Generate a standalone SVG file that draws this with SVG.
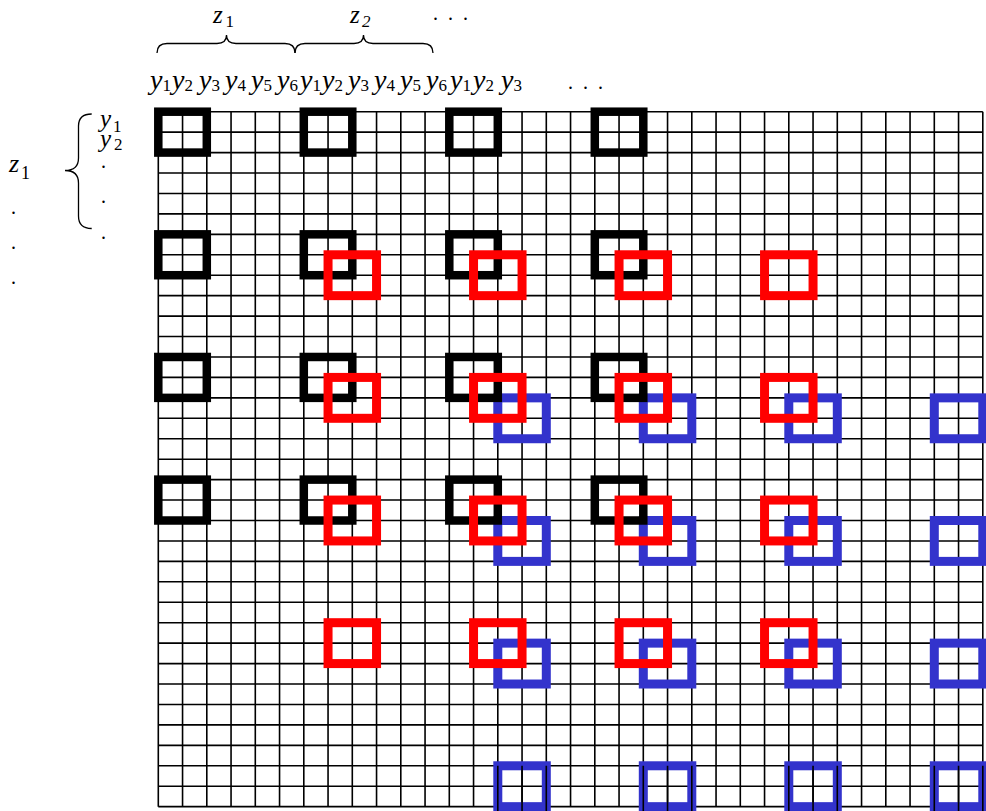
<svg xmlns="http://www.w3.org/2000/svg" width="986" height="811" viewBox="0 0 986 811">
<style>
.t{font-family:"Liberation Serif","Times New Roman",serif;fill:#000}
.it{font-style:italic}
.grid{fill:none;stroke:#000;stroke-width:1.6}
.brace{fill:none;stroke:#000;stroke-width:1.3}
.bk{fill:none;stroke:#000;stroke-width:8.5}
.rd{fill:none;stroke:#FF0000;stroke-width:9}
.bl{fill:none;stroke:#3333CC;stroke-width:9}
</style>
<rect width="986" height="811" fill="#fff"/>
<g id="labels">
<text class="t it" x="213" y="22.5" font-size="25">z</text><text class="t" x="225.5" y="27" font-size="17">1</text>
<text class="t it" x="350" y="22.5" font-size="25">z</text><text class="t it" x="362" y="27" font-size="17">2</text>
<text class="t" x="433 440.5 448 455.5 463" y="20" font-size="20">. . .</text>
<text class="t" font-size="28" y="89"><tspan class="it" x="150">y</tspan><tspan font-size="17" dy="2">1</tspan><tspan class="it" x="172" y="89">y</tspan><tspan font-size="17" dy="2">2</tspan><tspan class="it" x="199" y="89">y</tspan><tspan font-size="17" dy="2">3</tspan><tspan class="it" x="225" y="89">y</tspan><tspan font-size="17" dy="2">4</tspan><tspan class="it" x="251" y="89">y</tspan><tspan font-size="17" dy="2">5</tspan><tspan class="it" x="277" y="89">y</tspan><tspan font-size="17" dy="2">6</tspan><tspan class="it" x="300" y="89">y</tspan><tspan font-size="17" dy="2">1</tspan><tspan class="it" x="322" y="89">y</tspan><tspan font-size="17" dy="2">2</tspan><tspan class="it" x="348" y="89">y</tspan><tspan font-size="17" dy="2">3</tspan><tspan class="it" x="374" y="89">y</tspan><tspan font-size="17" dy="2">4</tspan><tspan class="it" x="400" y="89">y</tspan><tspan font-size="17" dy="2">5</tspan><tspan class="it" x="426" y="89">y</tspan><tspan font-size="17" dy="2">6</tspan><tspan class="it" x="450" y="89">y</tspan><tspan font-size="17" dy="2">1</tspan><tspan class="it" x="473" y="89">y</tspan><tspan font-size="17" dy="2">2</tspan><tspan class="it" x="501" y="89">y</tspan><tspan font-size="17" dy="2">3</tspan></text>
<text class="t" x="568 575.5 583 590.5 598" y="89" font-size="20">. . .</text>
<text class="t it" x="100" y="127" font-size="25">y</text><text class="t" x="113" y="131.5" font-size="17">1</text>
<text class="t it" x="100" y="147" font-size="25">y</text><text class="t" x="114" y="150" font-size="17">2</text>
<text class="t" x="101" y="168" font-size="20">.</text>
<text class="t" x="101" y="203" font-size="20">.</text>
<text class="t" x="101" y="239" font-size="20">.</text>
<text class="t it" x="9" y="172" font-size="26">z</text><text class="t" x="21" y="179" font-size="18">1</text>
<text class="t" x="11" y="214" font-size="20">.</text>
<text class="t" x="11" y="249" font-size="20">.</text>
<text class="t" x="11" y="284" font-size="20">.</text>
</g>
<g id="braces">
<path class="brace" d="M157,53 Q157,43.5 167,43.5 H217 Q226.5,43.5 226.5,35 Q226.5,43.5 236,43.5 H285 Q295,43.5 295,53"/>
<path class="brace" d="M295,53 Q295,43.5 305,43.5 H354 Q363.5,43.5 363.5,35 Q363.5,43.5 373,43.5 H423 Q433,43.5 433,53"/>
<path class="brace" d="M91.7,114 Q78.5,114 78.5,126 V158 Q78.5,170.5 65,170.5 Q78.5,170.5 78.5,183 V216 Q78.5,228.5 91.7,228.5"/>
</g>
<g id="grid">
<path class="grid" d="M158.3,111.7V806.7M182.55,111.7V806.7M206.8,111.7V806.7M231.05,111.7V806.7M255.3,111.7V806.7M279.55,111.7V806.7M303.8,111.7V806.7M328.05,111.7V806.7M352.3,111.7V806.7M376.55,111.7V806.7M400.8,111.7V806.7M425.05,111.7V806.7M449.3,111.7V806.7M473.55,111.7V806.7M497.8,111.7V806.7M522.05,111.7V806.7M546.3,111.7V806.7M570.55,111.7V806.7M594.8,111.7V806.7M619.05,111.7V806.7M643.3,111.7V806.7M667.55,111.7V806.7M691.8,111.7V806.7M716.05,111.7V806.7M740.3,111.7V806.7M764.55,111.7V806.7M788.8,111.7V806.7M813.05,111.7V806.7M837.3,111.7V806.7M861.55,111.7V806.7M885.8,111.7V806.7M910.05,111.7V806.7M934.3,111.7V806.7M958.55,111.7V806.7M982.8,111.7V806.7
M158.3,111.7H982.8M158.3,132.14H982.8M158.3,152.58H982.8M158.3,173.02H982.8M158.3,193.46H982.8M158.3,213.9H982.8M158.3,234.34H982.8M158.3,254.78H982.8M158.3,275.22H982.8M158.3,295.66H982.8M158.3,316.1H982.8M158.3,336.54H982.8M158.3,356.98H982.8M158.3,377.42H982.8M158.3,397.86H982.8M158.3,418.3H982.8M158.3,438.74H982.8M158.3,459.18H982.8M158.3,479.62H982.8M158.3,500.06H982.8M158.3,520.5H982.8M158.3,540.94H982.8M158.3,561.38H982.8M158.3,581.82H982.8M158.3,602.26H982.8M158.3,622.7H982.8M158.3,643.14H982.8M158.3,663.58H982.8M158.3,684.02H982.8M158.3,704.46H982.8M158.3,724.9H982.8M158.3,745.34H982.8M158.3,765.78H982.8M158.3,786.22H982.8M158.3,806.66H982.8"/>
</g>
<g id="blue-boxes">
<rect class="bl" x="497.8" y="397.86" width="48.5" height="40.88"/><rect class="bl" x="643.3" y="397.86" width="48.5" height="40.88"/><rect class="bl" x="788.8" y="397.86" width="48.5" height="40.88"/><rect class="bl" x="934.3" y="397.86" width="48.5" height="40.88"/>
<rect class="bl" x="497.8" y="520.5" width="48.5" height="40.88"/><rect class="bl" x="643.3" y="520.5" width="48.5" height="40.88"/><rect class="bl" x="788.8" y="520.5" width="48.5" height="40.88"/><rect class="bl" x="934.3" y="520.5" width="48.5" height="40.88"/>
<rect class="bl" x="497.8" y="643.14" width="48.5" height="40.88"/><rect class="bl" x="643.3" y="643.14" width="48.5" height="40.88"/><rect class="bl" x="788.8" y="643.14" width="48.5" height="40.88"/><rect class="bl" x="934.3" y="643.14" width="48.5" height="40.88"/>
<rect class="bl" x="497.8" y="765.78" width="48.5" height="40.88"/><rect class="bl" x="643.3" y="765.78" width="48.5" height="40.88"/><rect class="bl" x="788.8" y="765.78" width="48.5" height="40.88"/><rect class="bl" x="934.3" y="765.78" width="48.5" height="40.88"/>
<path class="grid" d="M497.8,765.78V811M522.05,765.78V811M546.3,765.78V811M643.3,765.78V811M667.55,765.78V811M691.8,765.78V811M788.8,765.78V811M813.05,765.78V811M837.3,765.78V811M934.3,765.78V811M958.55,765.78V811M982.8,765.78V811"/>
</g>
<g id="black-boxes">
<rect class="bk" x="158.3" y="111.7" width="48.5" height="40.88"/><rect class="bk" x="303.8" y="111.7" width="48.5" height="40.88"/><rect class="bk" x="449.3" y="111.7" width="48.5" height="40.88"/><rect class="bk" x="594.8" y="111.7" width="48.5" height="40.88"/>
<rect class="bk" x="158.3" y="234.34" width="48.5" height="40.88"/><rect class="bk" x="303.8" y="234.34" width="48.5" height="40.88"/><rect class="bk" x="449.3" y="234.34" width="48.5" height="40.88"/><rect class="bk" x="594.8" y="234.34" width="48.5" height="40.88"/>
<rect class="bk" x="158.3" y="356.98" width="48.5" height="40.88"/><rect class="bk" x="303.8" y="356.98" width="48.5" height="40.88"/><rect class="bk" x="449.3" y="356.98" width="48.5" height="40.88"/><rect class="bk" x="594.8" y="356.98" width="48.5" height="40.88"/>
<rect class="bk" x="158.3" y="479.62" width="48.5" height="40.88"/><rect class="bk" x="303.8" y="479.62" width="48.5" height="40.88"/><rect class="bk" x="449.3" y="479.62" width="48.5" height="40.88"/><rect class="bk" x="594.8" y="479.62" width="48.5" height="40.88"/>
</g>
<g id="red-boxes">
<rect class="rd" x="328.05" y="254.78" width="48.5" height="40.88"/><rect class="rd" x="473.55" y="254.78" width="48.5" height="40.88"/><rect class="rd" x="619.05" y="254.78" width="48.5" height="40.88"/><rect class="rd" x="764.55" y="254.78" width="48.5" height="40.88"/>
<rect class="rd" x="328.05" y="377.42" width="48.5" height="40.88"/><rect class="rd" x="473.55" y="377.42" width="48.5" height="40.88"/><rect class="rd" x="619.05" y="377.42" width="48.5" height="40.88"/><rect class="rd" x="764.55" y="377.42" width="48.5" height="40.88"/>
<rect class="rd" x="328.05" y="500.06" width="48.5" height="40.88"/><rect class="rd" x="473.55" y="500.06" width="48.5" height="40.88"/><rect class="rd" x="619.05" y="500.06" width="48.5" height="40.88"/><rect class="rd" x="764.55" y="500.06" width="48.5" height="40.88"/>
<rect class="rd" x="328.05" y="622.7" width="48.5" height="40.88"/><rect class="rd" x="473.55" y="622.7" width="48.5" height="40.88"/><rect class="rd" x="619.05" y="622.7" width="48.5" height="40.88"/><rect class="rd" x="764.55" y="622.7" width="48.5" height="40.88"/>
</g>
</svg>
